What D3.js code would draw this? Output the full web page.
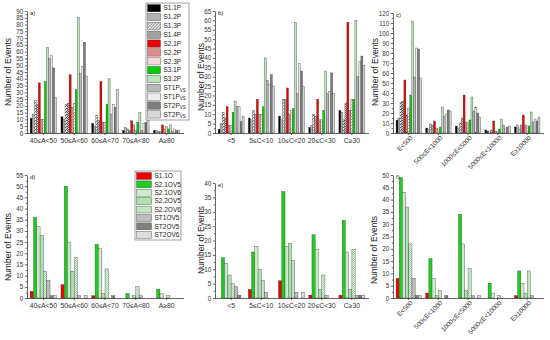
<!DOCTYPE html>
<html>
<head>
<meta charset="utf-8">
<script src="https://cdn.jsdelivr.net/npm/d3@7"></script>
<style>
	body { margin: 0; background: #fff; }
	svg { font-family: "Liberation Sans", Arial, sans-serif; }
	.axis path, .axis line { stroke: #222; stroke-width: 0.7; }
	.axis text { fill: #333; }
</style>
</head>
<body>
<script>
"use strict";

// categories
var ampCats = ["40≤A<50", "50≤A<60", "60≤A<70", "70≤A<80", "A≥80"];
var curCats = ["<5", "5≤C<10", "10≤C<20", "20≤C<30", "C≥30"];
var enCats = ["E<500", "500≤E<1000", "1000≤E<5000", "5000≤E<10000", "E≥10000"];

// series (top row / bottom row)
var topSeries = ["S1.1P", "S1.2P", "S1.3P", "S1.4P", "S2.1P", "S2.2P", "S2.3P",
	"S3.1P", "S3.2P", "ST1P_VS", "ST1P_VS", "ST2P_VS", "ST2P_VS"];
var bottomSeries = ["S1.1O", "S2.1OV5", "S2.1OV6", "S2.2OV5", "S2.2OV6",
	"ST1OV5", "ST2OV5", "ST2OV6"];

// values, one row per category, one entry per series
var aValues = [
	[11, 14, 24, 21, 37, 10, 10, 38, 63, 55, 57, 48, 26],
	[12, 10, 21, 22, 43, 19, 22, 32, 85, 44, 49, 67, 42],
	[7, 5, 13, 9, 38, 8, 8, 21, 40, 14, 21, 19, 32],
	[2, 4, 3, 2, 9, 6, 2, 8, 15, 2, 7, 8, 14],
	[2, 2, 1, 1, 6, 3, 5, 3, 6, 1, 3, 2, 2]
];
var bValues = [
	[2, 5, 11, 8, 14, 4, 4, 11, 17, 14, 14, 6, 9],
	[8, 7, 12, 10, 18, 10, 10, 14, 40, 28, 26, 31, 25],
	[9, 7, 18, 18, 24, 10, 12, 13, 59, 21, 37, 33, 25],
	[3, 4, 10, 9, 18, 7, 7, 12, 33, 21, 22, 32, 21],
	[12, 11, 7, 16, 59, 12, 18, 18, 60, 30, 38, 41, 36]
];
var cValues = [
	[13, 15, 31, 32, 53, 18, 25, 38, 112, 56, 85, 84, 55],
	[5, 4, 9, 8, 12, 5, 4, 6, 26, 17, 19, 23, 22],
	[7, 5, 10, 15, 38, 11, 10, 13, 36, 22, 26, 20, 16],
	[3, 2, 2, 3, 12, 2, 1, 4, 14, 8, 4, 6, 7],
	[6, 8, 5, 8, 18, 8, 7, 7, 21, 11, 14, 12, 16]
];
var dValues = [
	[3, 36, 32, 28, 12, 8, 1, 1],
	[6, 50, 25, 12, 18, 1, 0, 1],
	[1, 24, 22, 2, 13, 0, 1, 0],
	[0, 2, 0, 1, 5, 1, 0, 0],
	[0, 4, 2, 0, 1, 0, 0, 0]
];
var eValues = [
	[0, 14, 12, 8, 5, 4, 1, 0],
	[3, 16, 18, 10, 6, 2, 0, 0],
	[6, 37, 18, 19, 13, 2, 0, 2],
	[1, 22, 17, 3, 8, 1, 0, 0],
	[1, 27, 16, 3, 17, 1, 1, 1]
];
var fValues = [
	[8, 49, 43, 37, 22, 8, 1, 1],
	[2, 16, 8, 1, 3, 0, 1, 0],
	[0, 34, 22, 3, 12, 1, 0, 1],
	[0, 6, 2, 0, 1, 0, 0, 0],
	[1, 11, 6, 2, 11, 1, 0, 0]
];

var topFills = ["#000000", "#b4b4b4", "url(#hatchBlack)", "url(#checkGray)", "#e80000",
	"#dd8f8f", "url(#hatchRed)", "#00cc00", "#b9e6b9", "#b8b8b8", "#ececec", "#7c7c7c", "#d6d6d6"];
var bottomFills = ["#ee0000", "#1fcc1f", "#c9ecc9", "#afdeaf", "url(#checkGreen)",
	"#bcbcbc", "#808080", "#dcdcdc"];

var svg = d3.select("body").append("svg")
	.attr("width", 550)
	.attr("height", 340);

// fill patterns
var defs = svg.append("defs");

var p = defs.append("pattern").attr("id", "hatchBlack")
	.attr("patternUnits", "userSpaceOnUse").attr("width", 3).attr("height", 3);
p.append("rect").attr("width", 3).attr("height", 3).attr("fill", "#fff");
p.append("path").attr("d", "M0,3 L3,0 M-1,1 L1,-1 M2,4 L4,2").attr("stroke", "#222").attr("stroke-width", 0.8);

p = defs.append("pattern").attr("id", "checkGray")
	.attr("patternUnits", "userSpaceOnUse").attr("width", 2).attr("height", 2);
p.append("rect").attr("width", 2).attr("height", 2).attr("fill", "#eee");
p.append("rect").attr("width", 1).attr("height", 1).attr("fill", "#555");
p.append("rect").attr("x", 1).attr("y", 1).attr("width", 1).attr("height", 1).attr("fill", "#555");

p = defs.append("pattern").attr("id", "hatchRed")
	.attr("patternUnits", "userSpaceOnUse").attr("width", 3).attr("height", 3);
p.append("rect").attr("width", 3).attr("height", 3).attr("fill", "#fff");
p.append("path").attr("d", "M0,3 L3,0 M-1,1 L1,-1 M2,4 L4,2").attr("stroke", "#e08080").attr("stroke-width", 0.9);

p = defs.append("pattern").attr("id", "checkGreen")
	.attr("patternUnits", "userSpaceOnUse").attr("width", 2).attr("height", 2);
p.append("rect").attr("width", 2).attr("height", 2).attr("fill", "#f2fbf2");
p.append("rect").attr("width", 1).attr("height", 1).attr("fill", "#8fcf8f");
p.append("rect").attr("x", 1).attr("y", 1).attr("width", 1).attr("height", 1).attr("fill", "#8fcf8f");

function drawPanel(cfg) {
	var g = svg.append("g");

	var x0 = d3.scaleBand()
		.domain(cfg.cats)
		.range([cfg.left + 1, cfg.right])
		.paddingInner(0.14)
		.paddingOuter(0.07);

	var x1 = d3.scaleBand()
		.domain(d3.range(cfg.series.length))
		.range([0, x0.bandwidth()]);

	var y = d3.scaleLinear()
		.domain([0, cfg.max])
		.range([cfg.bottom, cfg.top]);

	// bars
	g.selectAll(".grp")
		.data(cfg.values)
		.enter().append("g")
		.attr("class", "grp")
		.attr("transform", (d, i) => `translate(${x0(cfg.cats[i])},0)`)
		.selectAll("rect")
		.data(d => d)
		.enter().append("rect")
		.attr("x", (d, j) => x1(j))
		.attr("width", x1.bandwidth())
		.attr("y", d => y(d))
		.attr("height", d => y(0) - y(d))
		.attr("fill", (d, j) => cfg.fills[j])
		.attr("stroke", "#3a3a3a")
		.attr("stroke-width", d => d > 0 ? 0.35 : 0);

	// y axis, minor ticks first
	g.append("g")
		.attr("class", "axis")
		.attr("transform", `translate(${cfg.left},0)`)
		.call(d3.axisLeft(y)
			.tickValues(d3.range(cfg.step / 2, cfg.max, cfg.step))
			.tickSize(1.2).tickFormat(""))
		.select(".domain").remove();

	g.append("g")
		.attr("class", "axis")
		.attr("transform", `translate(${cfg.left},0)`)
		.call(d3.axisLeft(y)
			.tickValues(d3.range(0, cfg.max + 0.1, cfg.step))
			.tickSize(2.2).tickPadding(1.5).tickSizeOuter(0))
		.selectAll("text")
		.style("font-size", "6.3px");

	// x axis
	var xa = g.append("g")
		.attr("class", "axis")
		.attr("transform", `translate(0,${cfg.bottom})`)
		.call(d3.axisBottom(x0).tickSize(2).tickSizeOuter(0).tickPadding(3));
	xa.select(".domain").attr("d", `M${cfg.left},0.5H${cfg.right + 2}`);

	if (cfg.rotate) {
		xa.selectAll("text")
			.style("font-size", "6.5px")
			.attr("text-anchor", "end")
			.attr("dy", "0.3em")
			.attr("transform", "translate(3,4) rotate(-45)")
			.attr("y", 0).attr("x", 0);
	} else {
		xa.selectAll("text").style("font-size", "6.8px");
	}

	// axis title
	g.append("text")
		.attr("transform", `translate(${cfg.titleX},${cfg.titleY}) rotate(-90)`)
		.attr("text-anchor", "middle")
		.style("font-size", "8.5px")
		.style("fill", "#222")
		.text("Number of Events");

	// panel letter
	g.append("text")
		.attr("x", cfg.left + 3)
		.attr("y", cfg.top + 4)
		.style("font-size", "6px")
		.style("fill", "#222")
		.text(cfg.letter);
}

function drawLegend(series, fills, box) {
	var g = svg.append("g");
	g.append("rect")
		.attr("x", box.x).attr("y", box.y)
		.attr("width", box.w).attr("height", box.h)
		.attr("fill", "#fff")
		.attr("stroke", "#444")
		.attr("stroke-width", 0.5);

	var row = g.selectAll(".lg")
		.data(series)
		.enter().append("g")
		.attr("transform", (d, i) => `translate(${box.x + 1.5},${box.y + 1.5 + i * box.dy})`);

	row.append("rect")
		.attr("width", box.sw)
		.attr("height", box.dy - 1.5)
		.attr("fill", (d, i) => fills[i])
		.attr("stroke", "#444")
		.attr("stroke-width", 0.4);

	var t = row.append("text")
		.attr("x", box.sw + 3)
		.attr("y", box.dy / 2 + 1.5)
		.style("font-size", "6.5px")
		.style("fill", "#222");
	t.append("tspan").text(d => d.split("_")[0]);
	t.filter(d => d.indexOf("_") > 0)
		.append("tspan")
		.attr("dy", 1.5)
		.style("font-size", "4.5px")
		.text(d => d.split("_")[1]);
}

drawPanel({ cats: ampCats, series: topSeries, fills: topFills, values: aValues,
	left: 27, right: 182, top: 11, bottom: 133, max: 90, step: 5,
	titleX: 11, titleY: 72, letter: "a)" });
drawPanel({ cats: curCats, series: topSeries, fills: topFills, values: bValues,
	left: 215, right: 367, top: 11, bottom: 133, max: 65, step: 5,
	titleX: 204, titleY: 77, letter: "b)" });
drawPanel({ cats: enCats, series: topSeries, fills: topFills, values: cValues,
	left: 393, right: 542, top: 13, bottom: 133, max: 120, step: 10,
	titleX: 378, titleY: 72, letter: "c)", rotate: true });

drawPanel({ cats: ampCats, series: bottomSeries, fills: bottomFills, values: dValues,
	left: 27, right: 182, top: 175, bottom: 298, max: 55, step: 5,
	titleX: 11, titleY: 247, letter: "d)" });
drawPanel({ cats: curCats, series: bottomSeries, fills: bottomFills, values: eValues,
	left: 215, right: 367, top: 183, bottom: 298, max: 40, step: 5,
	titleX: 204, titleY: 240, letter: "e)" });
drawPanel({ cats: enCats, series: bottomSeries, fills: bottomFills, values: fValues,
	left: 393, right: 542, top: 175, bottom: 298, max: 50, step: 5,
	titleX: 377, titleY: 250, letter: "f)", rotate: true });

drawLegend(topSeries, topFills, { x: 146, y: 3, w: 43, h: 117, dy: 8.85, sw: 13 });
drawLegend(bottomSeries, bottomFills, { x: 135, y: 171, w: 46, h: 69, dy: 8.4, sw: 15 });
</script>
</body>
</html>
